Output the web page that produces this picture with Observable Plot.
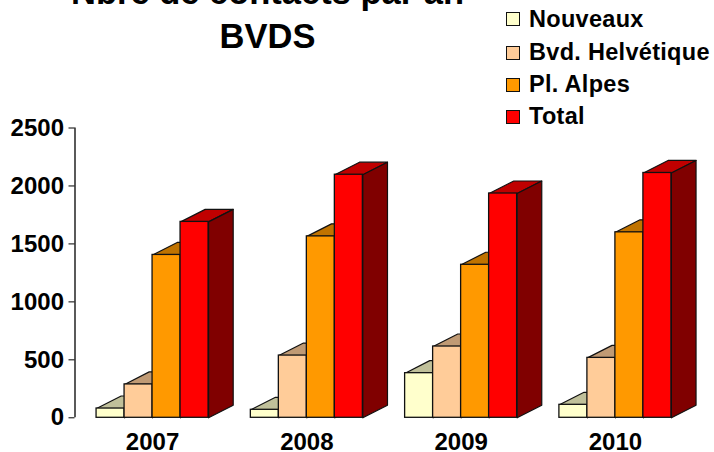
<!DOCTYPE html>
<html>
<head>
<meta charset="utf-8">
<script src="https://cdn.jsdelivr.net/npm/d3@7"></script>
<script src="https://cdn.jsdelivr.net/npm/@observablehq/plot@0.6"></script>
<style>
html,body{margin:0;padding:0;background:#fff;overflow:hidden}
#chart{position:relative;width:714px;height:452px;overflow:hidden;font-family:"Liberation Sans",Arial,sans-serif;font-weight:bold;color:#000}
#chart svg{position:absolute;left:0;top:0;background:transparent}
.t{position:absolute;left:67.5px;width:400px;text-align:center;font-size:34.5px;line-height:40px;white-space:nowrap}
.l{position:absolute;left:529px;font-size:23.5px;line-height:24px;letter-spacing:.3px;white-space:nowrap}
.s{position:absolute;left:506px;width:12px;height:12px;border:1.4px solid #111;box-sizing:content-box}
</style>
</head>
<body>
<div id="chart"></div>
<script>
const title = ["Nbre de contacts par an", "BVDS"];
const years = ["2007", "2008", "2009", "2010"];
const seriesNames = ["Nouveaux", "Bvd. Helvétique", "Pl. Alpes", "Total"];
const nouveaux = [80, 69, 385, 112];
const helvetique = [288, 537, 615, 517];
const alpes = [1405, 1565, 1320, 1600];
const total = [1690, 2097, 1935, 2112];
const frontColors = ["#FFFFCC", "#FFCC99", "#FF9900", "#FF0000"];
const topColors = ["#C0C09A", "#C09A74", "#C07300", "#C00000"];
const sideColors = ["#808066", "#80664D", "#804D00", "#800000"];
const yTicks = [0, 500, 1000, 1500, 2000, 2500];
const legendTop = [12, 45.5, 78, 110];
const legendBaseline = [27.3, 59.6, 91.8, 124.3];
const titleBaseline = [3.5, 47];

const groupStart = 0.77, groupStep = 5.51;   // in bar widths
const depthX = 0.88, depthY = 108;           // oblique depth, in data units

const values = [nouveaux, helvetique, alpes, total];
const fronts = [], faces = [];
years.forEach((year, g) => {
  values.forEach((vals, s) => {
    const x1 = groupStart + g * groupStep + s, x2 = x1 + 1, v = vals[g];
    fronts.push({x1, x2, v, fill: frontColors[s]});
    const top = [[x1, v], [x2, v], [x2 + depthX, v + depthY], [x1 + depthX, v + depthY], [x1, v]];
    top.forEach(([x, y]) => faces.push({x, y, z: `t${g}${s}`, fill: topColors[s]}));
    const side = [[x2, 0], [x2 + depthX, depthY], [x2 + depthX, v + depthY], [x2, v], [x2, 0]];
    side.forEach(([x, y]) => faces.push({x, y, z: `s${g}${s}`, fill: sideColors[s]}));
  });
});
const centers = years.map((_, g) => groupStart + g * groupStep + 2);
const axisFont = "Liberation Sans, Arial, sans-serif";

const plot = Plot.plot({
  width: 714, height: 452,
  marginLeft: 74.5, marginRight: 9.5, marginTop: 127.5, marginBottom: 34.7,
  x: {type: "linear", domain: [0, 22.5]},
  y: {domain: [0, 2500]},
  marks: [
    Plot.line(faces, {x: "x", y: "y", z: "z", fill: d => d.fill, stroke: "#111", strokeWidth: 1.2}),
    Plot.rect(fronts, {x1: "x1", x2: "x2", y1: 0, y2: "v", fill: d => d.fill, stroke: "#111", strokeWidth: 1.3}),
    Plot.ruleX([0], {y1: 0, y2: 2500, stroke: "#000", strokeWidth: 1.3}),
    Plot.axisY({ticks: yTicks, tickSize: 6, tickPadding: 5, label: null, tickFormat: d => String(d), fontSize: 24, fontWeight: "bold", fontFamily: axisFont, color: "#000", anchor: "left"}),
    Plot.axisX({ticks: centers, tickSize: 0, tickPadding: 15, label: null, tickFormat: (d, i) => years[i], fontSize: 24, fontWeight: "bold", fontFamily: axisFont, color: "#000", anchor: "bottom"})
  ]
});

const root = document.getElementById("chart");
root.appendChild(plot);
title.forEach((line, i) => {
  const d = document.createElement("div");
  d.className = "t";
  d.style.top = (titleBaseline[i] - 31.5) + "px";
  d.textContent = line;
  root.appendChild(d);
});
seriesNames.forEach((name, i) => {
  const s = document.createElement("div");
  s.className = "s";
  s.style.top = legendTop[i] + "px";
  s.style.background = frontColors[i];
  root.appendChild(s);
  const l = document.createElement("div");
  l.className = "l";
  l.style.top = (legendBaseline[i] - 20) + "px";
  l.textContent = name;
  root.appendChild(l);
});
</script>
</body>
</html>
